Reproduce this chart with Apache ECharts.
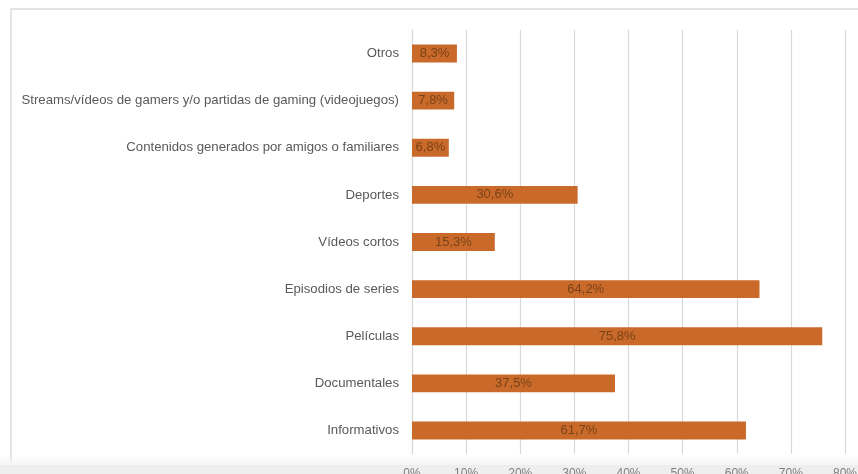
<!DOCTYPE html>
<html>
<head>
<meta charset="utf-8">
<script src="https://cdn.jsdelivr.net/npm/echarts@6/dist/echarts.min.js"></script>
<style>
  html, body { margin: 0; padding: 0; background: #ffffff; }
  #chart { width: 858px; height: 474px; }
</style>
</head>
<body>
<div id="chart"></div>
<script>
// Categories listed bottom to top, as the category axis draws them
const categories = [
  'Informativos',
  'Documentales',
  'Películas',
  'Episodios de series',
  'Vídeos cortos',
  'Deportes',
  'Contenidos generados por amigos o familiares',
  'Streams/vídeos de gamers y/o partidas de gaming (videojuegos)',
  'Otros'
];
// Share of respondents, percent
const values = [61.7, 37.5, 75.8, 64.2, 15.3, 30.6, 6.8, 7.8, 8.3];
// Value-axis ticks, percent
const ticks = [0, 10, 20, 30, 40, 50, 60, 70, 80];

const FONT = '"Liberation Sans Narrow", "Liberation Sans", sans-serif';
const fmt = v => v.toFixed(1).replace('.', ',') + '%';

const chart = echarts.init(document.getElementById('chart'), null, { renderer: 'canvas' });
chart.setOption({
  backgroundColor: '#ffffff',
  animation: false,
  graphic: [
    {
      type: 'rect', z: -10, silent: true,
      shape: { x: 11, y: 9, width: 860, height: 470 },
      style: { fill: 'none', stroke: '#dcdcdc', lineWidth: 1.5 }
    },
    {
      type: 'rect', z: -5, silent: true,
      shape: { x: 0, y: 455, width: 858, height: 19 },
      style: {
        fill: new echarts.graphic.LinearGradient(0, 0, 0, 1, [
          { offset: 0, color: 'rgba(245,245,245,0)' },
          { offset: 0.5, color: '#f6f6f6' },
          { offset: 0.52, color: '#eeeeee' },
          { offset: 1, color: '#eeeeee' }
        ])
      }
    }
  ],
  grid: {
    left: 412, right: 13, top: 30, bottom: 20,
    containLabel: false,
    outerBoundsMode: 'none'
  },
  xAxis: {
    type: 'value',
    min: ticks[0],
    max: ticks[ticks.length - 1],
    interval: 10,
    axisLine: { show: false },
    axisTick: { show: false },
    splitLine: { show: true, lineStyle: { color: '#d9d9d9', width: 1.2 } },
    axisLabel: {
      margin: 14,
      color: '#7f7f7f',
      fontFamily: FONT,
      fontSize: 12,
      formatter: v => v + '%'
    }
  },
  yAxis: {
    type: 'category',
    data: categories,
    axisLine: { show: true, lineStyle: { color: '#d9d9d9', width: 1.2 } },
    axisTick: { show: false },
    axisLabel: {
      margin: 13,
      color: '#595959',
      fontFamily: FONT,
      fontSize: 13.2
    }
  },
  series: [{
    type: 'bar',
    data: values,
    barCategoryGap: '62%',
    itemStyle: { color: '#c96a2b' },
    label: {
      show: true,
      position: 'inside',
      color: '#7a4217',
      fontFamily: FONT,
      fontSize: 13,
      formatter: p => fmt(p.value)
    }
  }]
});
</script>
</body>
</html>
